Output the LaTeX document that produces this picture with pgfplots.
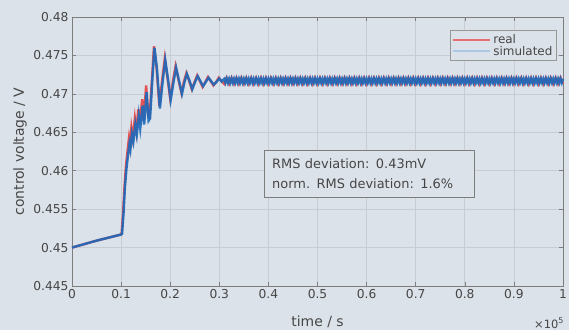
\documentclass[border=0pt]{standalone}
\usepackage{pgfplots}
\pgfplotsset{compat=1.18}
\usepackage{fontspec}
\setmainfont{DejaVu Sans}
\definecolor{bg}{RGB}{220,226,233}
\definecolor{gridc}{RGB}{200,205,211}
\definecolor{realc}{RGB}{228,82,84}
\definecolor{simc}{RGB}{26,106,188}
\definecolor{realleg}{RGB}{232,112,112}
\definecolor{simleg}{RGB}{170,200,228}
\definecolor{axc}{RGB}{125,125,125}
\definecolor{txt}{RGB}{70,70,70}
\pgfplotsset{
  mylegimg/.style={legend image code/.code={\draw[##1] (0bp,0bp) -- (37bp,0bp);}}
}
\begin{document}
\begin{tikzpicture}
\fill[bg] (-72bp,-44bp) rectangle (497bp,286bp);
\begin{axis}[
  width=491bp, height=269bp, scale only axis, clip=false,
  xmin=0, xmax=1, ymin=0.445, ymax=0.48,
  xtick={0,0.1,0.2,0.3,0.4,0.5,0.6,0.7,0.8,0.9,1},
  ytick={0.445,0.45,0.455,0.46,0.465,0.47,0.475,0.48},
  scaled x ticks=false, scaled y ticks=false,
  /pgf/number format/assume math mode=true,
  yticklabel style={/pgf/number format/fixed,/pgf/number format/precision=3},
  xticklabel style={/pgf/number format/fixed,/pgf/number format/precision=1},
  grid=major,
  major grid style={gridc, line width=0.7pt},
  axis line style={axc, line width=0.6pt},
  tick style={axc, line width=0.6pt},
  major tick length=4bp,
  tick label style={font=\fontsize{12.3}{14}\selectfont, text=txt},
  label style={font=\fontsize{14}{16}\selectfont, text=txt},
  xlabel={time / s},
  ylabel={control voltage / V},
  xlabel style={at={(axis description cs:0.5,-0.134)}, anchor=center},
  ylabel style={at={(axis description cs:-0.106,0.5)}, anchor=center},
  legend style={at={(0.987,0.951)}, anchor=north east, fill=bg, draw=axc!80,
    font=\fontsize{12}{13}\selectfont, text=txt, inner sep=2bp, row sep=-3bp},
  legend cell align=left,
  mylegimg,
]
\addlegendimage{realleg, line width=1.8pt}
\addlegendentry{real}
\addlegendimage{simleg, line width=2.2pt}
\addlegendentry{simulated}

\addplot[realc, line width=2.4pt, forget plot] coordinates {
(0,0.4500)(0.05,0.4509)(0.1,0.4517)(0.101,0.4518)(0.104,0.4545)(0.107,0.4580)(0.110,0.4607)(0.113,0.4625)(0.116,0.4642)(0.118,0.4632)(0.121,0.4656)(0.124,0.4642)(0.128,0.4668)(0.131,0.4652)(0.135,0.4680)(0.138,0.4660)(0.143,0.4693)(0.146,0.4665)(0.151,0.4711)(0.155,0.4672)(0.158,0.4670)(0.163,0.4720)(0.167,0.4762)(0.172,0.4735)(0.178,0.4684)(0.184,0.4720)(0.189,0.4746)(0.195,0.4718)(0.200,0.4694)(0.206,0.4718)(0.211,0.4736)(0.217,0.4718)(0.223,0.4701)(0.228,0.4716)(0.233,0.4727)(0.239,0.4716)(0.244,0.4706)(0.250,0.4716)(0.255,0.4724)(0.261,0.4716)(0.266,0.4709)(0.272,0.4716)(0.277,0.4722)(0.283,0.4716)(0.288,0.4711)(0.294,0.4716)(0.299,0.4721)(0.305,0.4716)(0.310,0.4713)
(0.315,0.4721)(0.32,0.4713)(0.325,0.4721)(0.33,0.4713)(0.335,0.4721)(0.34,0.4713)(0.345,0.4721)(0.35,0.4713)(0.355,0.4721)(0.36,0.4713)
(0.365,0.4721)(0.37,0.4713)(0.375,0.4721)(0.38,0.4713)(0.385,0.4721)(0.39,0.4713)(0.395,0.4721)(0.40,0.4713)(0.405,0.4721)(0.41,0.4713)
(0.415,0.4721)(0.42,0.4713)(0.425,0.4721)(0.43,0.4713)(0.435,0.4721)(0.44,0.4713)(0.445,0.4721)(0.45,0.4713)(0.455,0.4721)(0.46,0.4713)
(0.465,0.4721)(0.47,0.4713)(0.475,0.4721)(0.48,0.4713)(0.485,0.4721)(0.49,0.4713)(0.495,0.4721)(0.50,0.4713)(0.505,0.4721)(0.51,0.4713)
(0.515,0.4721)(0.52,0.4713)(0.525,0.4721)(0.53,0.4713)(0.535,0.4721)(0.54,0.4713)(0.545,0.4721)(0.55,0.4713)(0.555,0.4721)(0.56,0.4713)
(0.565,0.4721)(0.57,0.4713)(0.575,0.4721)(0.58,0.4713)(0.585,0.4721)(0.59,0.4713)(0.595,0.4721)(0.60,0.4713)(0.605,0.4721)(0.61,0.4713)
(0.615,0.4721)(0.62,0.4713)(0.625,0.4721)(0.63,0.4713)(0.635,0.4721)(0.64,0.4713)(0.645,0.4721)(0.65,0.4713)(0.655,0.4721)(0.66,0.4713)
(0.665,0.4721)(0.67,0.4713)(0.675,0.4721)(0.68,0.4713)(0.685,0.4721)(0.69,0.4713)(0.695,0.4721)(0.70,0.4713)(0.705,0.4721)(0.71,0.4713)
(0.715,0.4721)(0.72,0.4713)(0.725,0.4721)(0.73,0.4713)(0.735,0.4721)(0.74,0.4713)(0.745,0.4721)(0.75,0.4713)(0.755,0.4721)(0.76,0.4713)
(0.765,0.4721)(0.77,0.4713)(0.775,0.4721)(0.78,0.4713)(0.785,0.4721)(0.79,0.4713)(0.795,0.4721)(0.80,0.4713)(0.805,0.4721)(0.81,0.4713)
(0.815,0.4721)(0.82,0.4713)(0.825,0.4721)(0.83,0.4713)(0.835,0.4721)(0.84,0.4713)(0.845,0.4721)(0.85,0.4713)(0.855,0.4721)(0.86,0.4713)
(0.865,0.4721)(0.87,0.4713)(0.875,0.4721)(0.88,0.4713)(0.885,0.4721)(0.89,0.4713)(0.895,0.4721)(0.90,0.4713)(0.905,0.4721)(0.91,0.4713)
(0.915,0.4721)(0.92,0.4713)(0.925,0.4721)(0.93,0.4713)(0.935,0.4721)(0.94,0.4713)(0.945,0.4721)(0.95,0.4713)(0.955,0.4721)(0.96,0.4713)
(0.965,0.4721)(0.97,0.4713)(0.975,0.4721)(0.98,0.4713)(0.985,0.4721)(0.99,0.4713)(0.995,0.4721)(1.0,0.4713)
};

\addplot[simc, line width=2.4pt, opacity=0.9, forget plot] coordinates {
(0,0.4500)(0.05,0.4509)(0.1,0.4517)(0.102,0.4518)(0.105,0.4545)(0.108,0.4580)(0.111,0.4603)(0.114,0.4620)(0.117,0.4635)(0.119,0.4628)(0.122,0.4648)(0.125,0.4638)(0.129,0.4660)(0.132,0.4647)(0.136,0.4672)(0.139,0.4655)(0.144,0.4685)(0.147,0.4660)(0.152,0.4702)(0.156,0.4665)(0.159,0.4668)(0.164,0.4722)(0.168,0.4760)(0.173,0.4733)(0.179,0.4681)(0.185,0.4718)(0.190,0.4744)(0.196,0.4717)(0.201,0.4692)(0.207,0.4716)(0.212,0.4734)(0.218,0.4717)(0.224,0.4700)(0.229,0.4715)(0.234,0.4726)(0.240,0.4716)(0.245,0.4706)(0.251,0.4716)(0.256,0.4723)(0.262,0.4716)(0.267,0.4710)(0.273,0.4716)(0.278,0.4721)(0.284,0.4716)(0.289,0.4712)(0.295,0.4716)(0.300,0.4720)(0.305,0.4716)
(0.31,0.47195)(0.3125,0.47145)(0.315,0.47195)(0.3175,0.47145)(0.32,0.47195)(0.3225,0.47145)(0.325,0.47195)(0.3275,0.47145)
(0.33,0.47195)(0.3325,0.47145)(0.335,0.47195)(0.3375,0.47145)(0.34,0.47195)(0.3425,0.47145)(0.345,0.47195)(0.3475,0.47145)
(0.35,0.47195)(0.3525,0.47145)(0.355,0.47195)(0.3575,0.47145)(0.36,0.47195)(0.3625,0.47145)(0.365,0.47195)(0.3675,0.47145)
(0.37,0.47195)(0.3725,0.47145)(0.375,0.47195)(0.3775,0.47145)(0.38,0.47195)(0.3825,0.47145)(0.385,0.47195)(0.3875,0.47145)
(0.39,0.47195)(0.3925,0.47145)(0.395,0.47195)(0.3975,0.47145)(0.40,0.47195)(0.4025,0.47145)(0.405,0.47195)(0.4075,0.47145)
(0.41,0.47195)(0.4125,0.47145)(0.415,0.47195)(0.4175,0.47145)(0.42,0.47195)(0.4225,0.47145)(0.425,0.47195)(0.4275,0.47145)
(0.43,0.47195)(0.4325,0.47145)(0.435,0.47195)(0.4375,0.47145)(0.44,0.47195)(0.4425,0.47145)(0.445,0.47195)(0.4475,0.47145)
(0.45,0.47195)(0.4525,0.47145)(0.455,0.47195)(0.4575,0.47145)(0.46,0.47195)(0.4625,0.47145)(0.465,0.47195)(0.4675,0.47145)
(0.47,0.47195)(0.4725,0.47145)(0.475,0.47195)(0.4775,0.47145)(0.48,0.47195)(0.4825,0.47145)(0.485,0.47195)(0.4875,0.47145)
(0.49,0.47195)(0.4925,0.47145)(0.495,0.47195)(0.4975,0.47145)(0.50,0.47195)(0.5025,0.47145)(0.505,0.47195)(0.5075,0.47145)
(0.51,0.47195)(0.5125,0.47145)(0.515,0.47195)(0.5175,0.47145)(0.52,0.47195)(0.5225,0.47145)(0.525,0.47195)(0.5275,0.47145)
(0.53,0.47195)(0.5325,0.47145)(0.535,0.47195)(0.5375,0.47145)(0.54,0.47195)(0.5425,0.47145)(0.545,0.47195)(0.5475,0.47145)
(0.55,0.47195)(0.5525,0.47145)(0.555,0.47195)(0.5575,0.47145)(0.56,0.47195)(0.5625,0.47145)(0.565,0.47195)(0.5675,0.47145)
(0.57,0.47195)(0.5725,0.47145)(0.575,0.47195)(0.5775,0.47145)(0.58,0.47195)(0.5825,0.47145)(0.585,0.47195)(0.5875,0.47145)
(0.59,0.47195)(0.5925,0.47145)(0.595,0.47195)(0.5975,0.47145)(0.60,0.47195)(0.6025,0.47145)(0.605,0.47195)(0.6075,0.47145)
(0.61,0.47195)(0.6125,0.47145)(0.615,0.47195)(0.6175,0.47145)(0.62,0.47195)(0.6225,0.47145)(0.625,0.47195)(0.6275,0.47145)
(0.63,0.47195)(0.6325,0.47145)(0.635,0.47195)(0.6375,0.47145)(0.64,0.47195)(0.6425,0.47145)(0.645,0.47195)(0.6475,0.47145)
(0.65,0.47195)(0.6525,0.47145)(0.655,0.47195)(0.6575,0.47145)(0.66,0.47195)(0.6625,0.47145)(0.665,0.47195)(0.6675,0.47145)
(0.67,0.47195)(0.6725,0.47145)(0.675,0.47195)(0.6775,0.47145)(0.68,0.47195)(0.6825,0.47145)(0.685,0.47195)(0.6875,0.47145)
(0.69,0.47195)(0.6925,0.47145)(0.695,0.47195)(0.6975,0.47145)(0.70,0.47195)(0.7025,0.47145)(0.705,0.47195)(0.7075,0.47145)
(0.71,0.47195)(0.7125,0.47145)(0.715,0.47195)(0.7175,0.47145)(0.72,0.47195)(0.7225,0.47145)(0.725,0.47195)(0.7275,0.47145)
(0.73,0.47195)(0.7325,0.47145)(0.735,0.47195)(0.7375,0.47145)(0.74,0.47195)(0.7425,0.47145)(0.745,0.47195)(0.7475,0.47145)
(0.75,0.47195)(0.7525,0.47145)(0.755,0.47195)(0.7575,0.47145)(0.76,0.47195)(0.7625,0.47145)(0.765,0.47195)(0.7675,0.47145)
(0.77,0.47195)(0.7725,0.47145)(0.775,0.47195)(0.7775,0.47145)(0.78,0.47195)(0.7825,0.47145)(0.785,0.47195)(0.7875,0.47145)
(0.79,0.47195)(0.7925,0.47145)(0.795,0.47195)(0.7975,0.47145)(0.80,0.47195)(0.8025,0.47145)(0.805,0.47195)(0.8075,0.47145)
(0.81,0.47195)(0.8125,0.47145)(0.815,0.47195)(0.8175,0.47145)(0.82,0.47195)(0.8225,0.47145)(0.825,0.47195)(0.8275,0.47145)
(0.83,0.47195)(0.8325,0.47145)(0.835,0.47195)(0.8375,0.47145)(0.84,0.47195)(0.8425,0.47145)(0.845,0.47195)(0.8475,0.47145)
(0.85,0.47195)(0.8525,0.47145)(0.855,0.47195)(0.8575,0.47145)(0.86,0.47195)(0.8625,0.47145)(0.865,0.47195)(0.8675,0.47145)
(0.87,0.47195)(0.8725,0.47145)(0.875,0.47195)(0.8775,0.47145)(0.88,0.47195)(0.8825,0.47145)(0.885,0.47195)(0.8875,0.47145)
(0.89,0.47195)(0.8925,0.47145)(0.895,0.47195)(0.8975,0.47145)(0.90,0.47195)(0.9025,0.47145)(0.905,0.47195)(0.9075,0.47145)
(0.91,0.47195)(0.9125,0.47145)(0.915,0.47195)(0.9175,0.47145)(0.92,0.47195)(0.9225,0.47145)(0.925,0.47195)(0.9275,0.47145)
(0.93,0.47195)(0.9325,0.47145)(0.935,0.47195)(0.9375,0.47145)(0.94,0.47195)(0.9425,0.47145)(0.945,0.47195)(0.9475,0.47145)
(0.95,0.47195)(0.9525,0.47145)(0.955,0.47195)(0.9575,0.47145)(0.96,0.47195)(0.9625,0.47145)(0.965,0.47195)(0.9675,0.47145)
(0.97,0.47195)(0.9725,0.47145)(0.975,0.47195)(0.9775,0.47145)(0.98,0.47195)(0.9825,0.47145)(0.985,0.47195)(0.9875,0.47145)
(0.99,0.47195)(0.9925,0.47145)(0.995,0.47195)(0.9975,0.47145)(1.0,0.47195)
};

\node[draw=axc, fill=bg, anchor=north west, align=left, inner sep=0pt,
  minimum width=210bp, minimum height=47bp, text width=194bp,
  font=\fontsize{13}{20}\selectfont, text=txt] at (axis cs:0.391,0.4627)
  {RMS deviation: 0.43mV\\norm. RMS deviation: 1.6\%};
\node[anchor=west, font=\fontsize{11.5}{13}\selectfont, text=txt, inner sep=0pt]
  at (rel axis cs:0.941,0) [yshift=-37bp] {×10\textsuperscript{5}};
\end{axis}
\pgfresetboundingbox
\useasboundingbox (-72bp,-44bp) rectangle (497bp,286bp);
\end{tikzpicture}
\end{document}
